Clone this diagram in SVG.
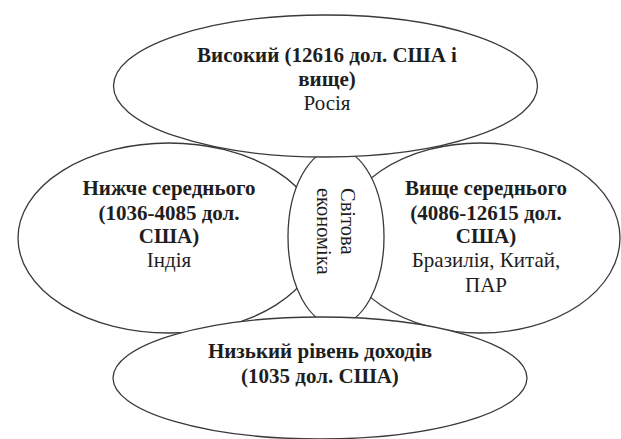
<svg xmlns="http://www.w3.org/2000/svg" width="621" height="439" viewBox="0 0 621 439">
<style>
.e{fill:#fff;stroke:#3a3a3a;stroke-width:1.3}
text{font-family:"Liberation Serif","Times New Roman",serif;fill:#1e1e1e;font-size:21px;text-anchor:middle}
.b{font-weight:bold}
.v{font-size:20.5px;text-anchor:start}
</style>
<rect width="621" height="439" fill="#fff"/>
<g id="lower-middle">
<ellipse class="e" cx="169" cy="238" rx="151" ry="95"/>
<text class="b" x="169" y="195">Нижче середнього</text>
<text class="b" x="169" y="220">(1036-4085 дол.</text>
<text class="b" x="169" y="243">США)</text>
<text x="169" y="267">Індія</text>
</g>
<g id="upper-middle">
<ellipse class="e" cx="480" cy="238" rx="140" ry="95"/>
<text class="b" x="486" y="195">Вище середнього</text>
<text class="b" x="486" y="220">(4086-12615 дол.</text>
<text class="b" x="486" y="243">США)</text>
<text x="486" y="267">Бразилія, Китай,</text>
<text x="486" y="292">ПАР</text>
</g>
<g id="world-economy">
<ellipse class="e" cx="336" cy="237" rx="48" ry="88"/>
<text class="v" transform="translate(341,188) rotate(90)">Світова</text>
<text class="v" transform="translate(317,188) rotate(90)">економіка</text>
</g>
<g id="high">
<ellipse class="e" cx="325.5" cy="86" rx="212" ry="71"/>
<text class="b" x="327" y="62">Високий (12616 дол. США і</text>
<text class="b" x="327" y="86">вище)</text>
<text x="327" y="110">Росія</text>
</g>
<g id="low">
<ellipse class="e" cx="320" cy="378" rx="207" ry="61"/>
<text class="b" x="320" y="358">Низький рівень доходів</text>
<text class="b" x="320" y="383">(1035 дол. США)</text>
</g>
<g id="connectors"/>
</svg>
